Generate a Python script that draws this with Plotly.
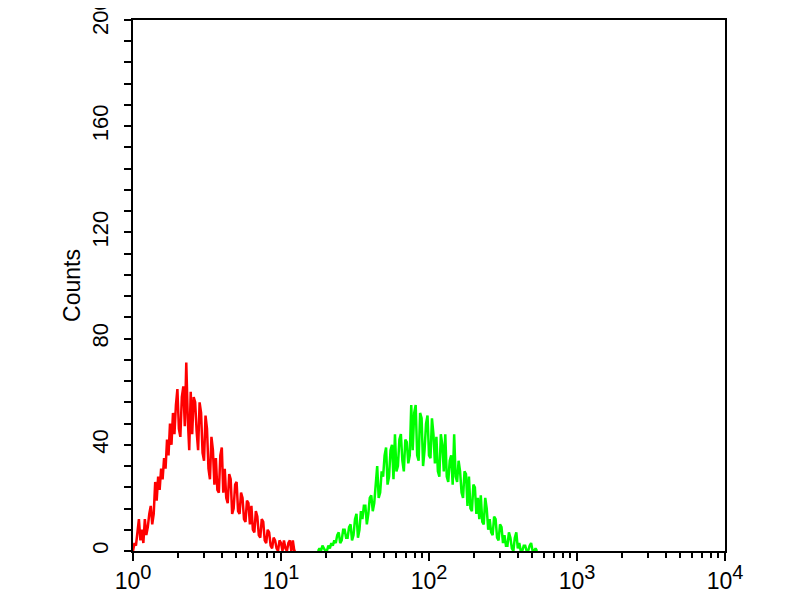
import plotly.graph_objects as go

# histogram channels: counts per bin, bins spaced CHANNEL_STEP decades apart
CHANNEL_STEP = 0.01
red_start_log = 0.0
green_start_log = 1.25

red_counts = [
    0, 3, 2, 6, 12, 4, 8, 3, 12, 6, 9, 14, 17, 10, 14, 26, 19, 28, 23, 31,
    27, 35, 31, 42, 36, 48, 40, 52, 44, 55, 61, 46, 43, 58, 62, 47, 71, 50, 38, 60,
    44, 58, 56, 45, 38, 56, 52, 37, 34, 51, 46, 31, 27, 43, 38, 25, 35, 23, 22, 36,
    39, 22, 31, 20, 18, 29, 27, 14, 16, 25, 26, 15, 14, 22, 20, 12, 11, 19, 18, 10,
    17, 8, 7, 15, 13, 6, 5, 12, 11, 4, 3, 8, 7, 2, 1, 5, 4, 1, 0, 4,
    3, 0, 4, 1, 0, 3, 4, 0, 4, 0, 0,
]

green_counts = [
    0, 1, 0, 2, 1, 0, 0, 2, 1, 3, 2, 4, 3, 6, 7, 3, 4, 8, 8, 5,
    5, 9, 10, 4, 6, 12, 14, 5, 8, 15, 12, 17, 17, 10, 14, 20, 21, 15, 18, 27,
    32, 20, 22, 30, 28, 36, 39, 25, 28, 38, 40, 27, 44, 30, 32, 42, 44, 34, 30, 42,
    41, 33, 36, 55, 38, 52, 55, 36, 34, 52, 50, 32, 38, 48, 51, 36, 35, 50, 44, 33,
    43, 30, 28, 44, 40, 30, 44, 28, 26, 34, 36, 25, 44, 28, 26, 34, 30, 22, 20, 30,
    29, 17, 28, 16, 15, 25, 24, 14, 20, 12, 21, 11, 10, 20, 16, 8, 12, 7, 6, 13,
    12, 5, 4, 10, 9, 3, 6, 2, 2, 7, 5, 1, 0, 5, 7, 1, 3, 0, 0, 2,
    2, 0, 0, 2, 3, 0, 0, 1, 0,
]

red_x = [10 ** (red_start_log + CHANNEL_STEP * i) for i in range(len(red_counts))]
green_x = [10 ** (green_start_log + CHANNEL_STEP * i) for i in range(len(green_counts))]

x_tickvals = [1, 10, 100, 1000, 10000]
x_exponents = ["0", "1", "2", "3", "4"]
y_tickvals = [0, 40, 80, 120, 160, 200]

font = "Liberation Sans, Arial, sans-serif"
x_ticktext = ["10<sup><span style='font-size:20px'>%s</span></sup>" % e for e in x_exponents]

fig = go.Figure()
fig.add_trace(go.Scatter(x=red_x, y=red_counts, mode="lines",
                         line=dict(color="#ff0000", width=2.5), showlegend=False))
fig.add_trace(go.Scatter(x=green_x, y=green_counts, mode="lines",
                         line=dict(color="#00ff00", width=2.5), showlegend=False))

fig.update_xaxes(
    type="log", range=[0, 4],
    tickvals=x_tickvals, ticktext=x_ticktext,
    ticks="outside", ticklen=8, tickwidth=2, tickcolor="black",
    minor=dict(ticks="outside", ticklen=5, tickwidth=1.5, tickcolor="black", dtick="D1"),
    showline=True, linewidth=2, linecolor="black", mirror=True,
    showgrid=False, zeroline=False,
    tickfont=dict(family=font, size=23, color="black"),
)
fig.update_yaxes(
    range=[0, 200],
    tickvals=y_tickvals, tickangle=-90,
    ticks="outside", ticklen=7, tickwidth=2, tickcolor="black",
    minor=dict(ticks="outside", ticklen=7, tickwidth=1.5, tickcolor="black", dtick=8),
    showline=True, linewidth=2, linecolor="black", mirror=True,
    showgrid=False, zeroline=False,
    ticklabelstandoff=7, ticklabeloverflow="allow",
    tickfont=dict(family=font, size=22, color="black"),
    title=dict(text="Counts", font=dict(family=font, size=23, color="black"), standoff=1),
)
# page body adds an 8px offset, margins compensate for it
fig.update_layout(
    width=800, height=600,
    margin=dict(l=125, r=83, t=12, b=57, autoexpand=False),
    plot_bgcolor="white", paper_bgcolor="white",
)

fig.write_html("out.html")
